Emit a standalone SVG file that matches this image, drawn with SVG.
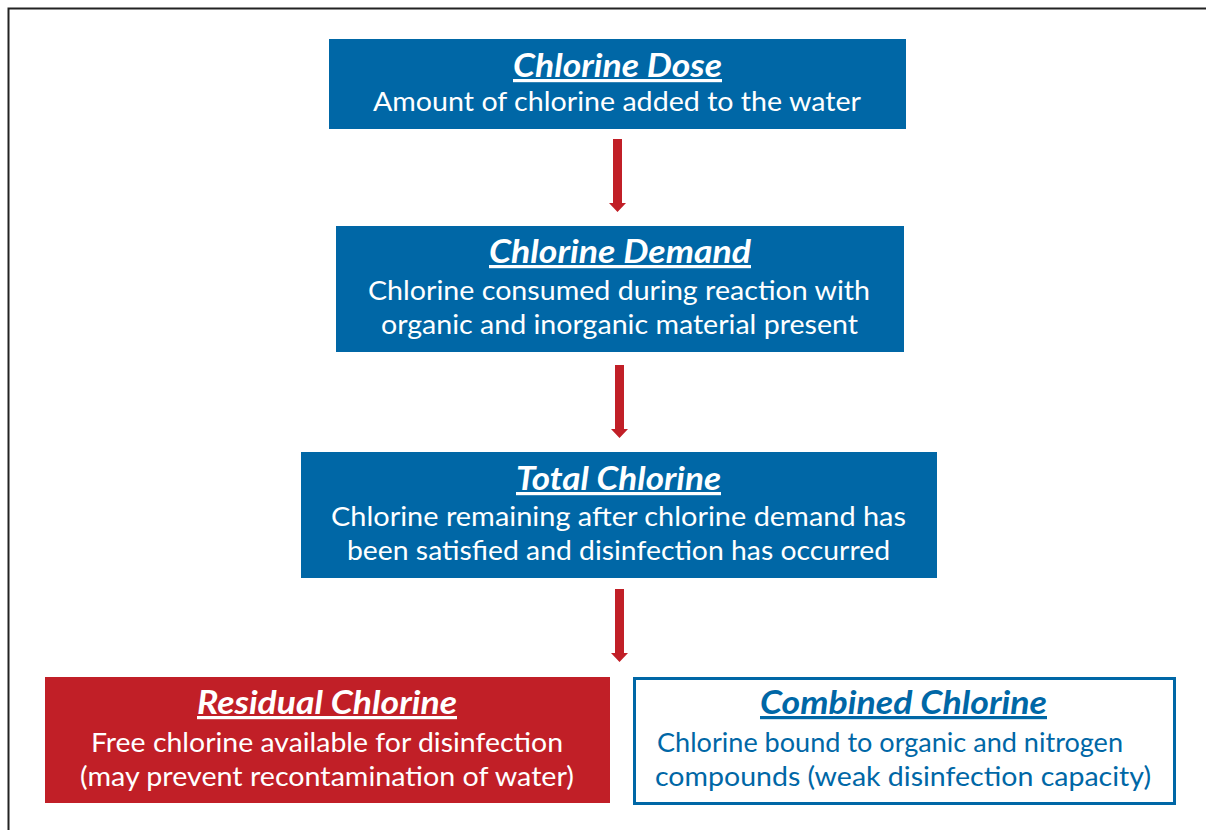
<svg xmlns="http://www.w3.org/2000/svg" width="1206" height="830" viewBox="0 0 1206 830">
<style>
.bb{fill:#0067a6}
.rb{fill:#c11f27}
.ob{fill:#fff;stroke:#0067a6;stroke-width:3}
.t{font-family:Lato,"Open Sans",sans-serif;font-size:32px;font-weight:bold;font-style:italic;text-decoration:underline;text-anchor:middle}
.b{font-family:Lato,"Open Sans",sans-serif;font-size:27.5px;text-anchor:middle}
.w{fill:#fff}
.bl{fill:#0067a6}
.arr{fill:#c11f27}
</style>
<rect width="1206" height="830" fill="#fff"/>
<path d="M8.5 830V8.5H1206" fill="none" stroke="#222" stroke-width="2"/>
<g id="connectors">
<path class="arr" d="M613 139h9v64h4l-8.5 9-8.5-9h4z"/>
<path class="arr" d="M615 365h9v64h4l-8.5 9-8.5-9h4z"/>
<path class="arr" d="M615 589h9v64h4l-8.5 9-8.5-9h4z"/>
</g>
<g id="dose">
<rect class="bb" x="329" y="39" width="577" height="90"/>
<text class="t w" x="617.5" y="77" textLength="209" lengthAdjust="spacingAndGlyphs">Chlorine Dose</text>
<text class="b w" x="617" y="111" textLength="488" lengthAdjust="spacingAndGlyphs">Amount of chlorine added to the water</text>
</g>
<g id="demand">
<rect class="bb" x="336" y="226" width="568" height="126"/>
<text class="t w" x="620" y="263" textLength="262" lengthAdjust="spacingAndGlyphs">Chlorine Demand</text>
<text class="b w" x="619" y="300" textLength="502" lengthAdjust="spacingAndGlyphs">Chlorine consumed during reaction with</text>
<text class="b w" x="619.5" y="334" textLength="477" lengthAdjust="spacingAndGlyphs">organic and inorganic material present</text>
</g>
<g id="total">
<rect class="bb" x="301" y="452" width="636" height="126"/>
<text class="t w" x="618.5" y="490" textLength="205" lengthAdjust="spacingAndGlyphs">Total Chlorine</text>
<text class="b w" x="618.5" y="526" textLength="575" lengthAdjust="spacingAndGlyphs">Chlorine remaining after chlorine demand has</text>
<text class="b w" x="618.5" y="560" textLength="543" lengthAdjust="spacingAndGlyphs">been satisfied and disinfection has occurred</text>
</g>
<g id="residual">
<rect class="rb" x="45" y="677" width="565" height="126"/>
<text class="t w" x="327" y="714" textLength="260" lengthAdjust="spacingAndGlyphs">Residual Chlorine</text>
<text class="b w" x="327" y="752" textLength="472" lengthAdjust="spacingAndGlyphs">Free chlorine available for disinfection</text>
<text class="b w" x="327" y="786" textLength="494" lengthAdjust="spacingAndGlyphs">(may prevent recontamination of water)</text>
</g>
<g id="combined">
<rect class="ob" x="634.5" y="678.5" width="540" height="125"/>
<text class="t bl" x="903.5" y="714" textLength="287" lengthAdjust="spacingAndGlyphs">Combined Chlorine</text>
<text class="b bl" x="890" y="752" textLength="466" lengthAdjust="spacingAndGlyphs">Chlorine bound to organic and nitrogen</text>
<text class="b bl" x="903" y="786" textLength="496" lengthAdjust="spacingAndGlyphs">compounds (weak disinfection capacity)</text>
</g>
</svg>
